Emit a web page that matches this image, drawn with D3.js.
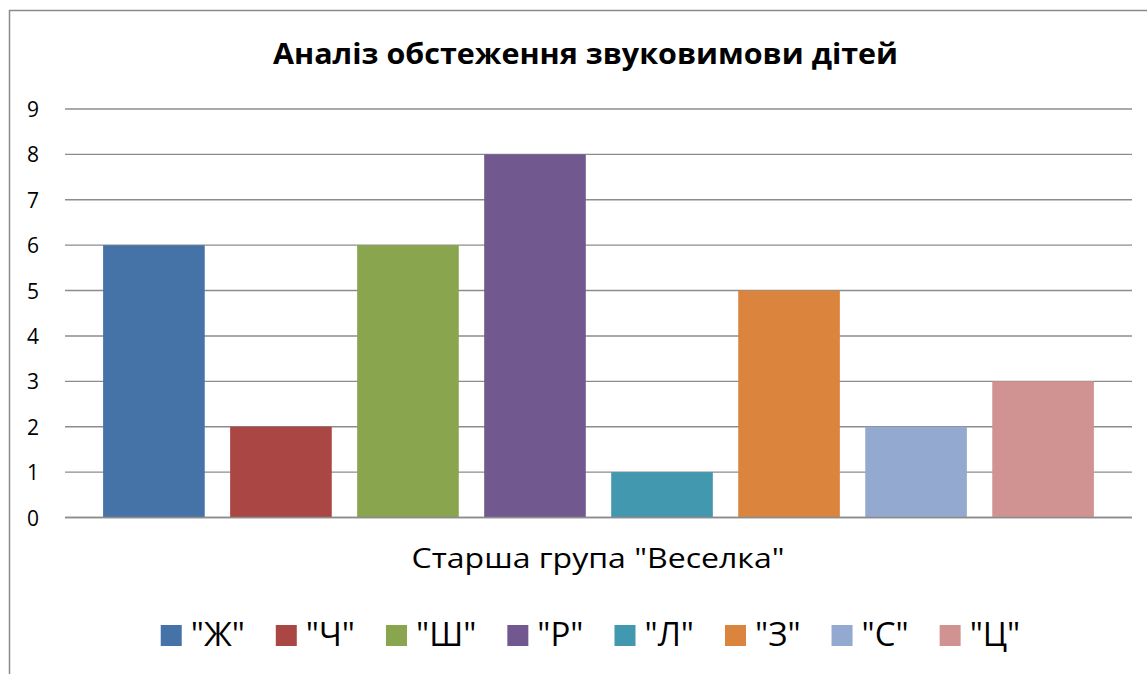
<!DOCTYPE html>
<html>
<head>
<meta charset="utf-8">
<script src="https://cdn.jsdelivr.net/npm/d3@7"></script>
<style>
  body { margin: 0; background: #fff; }
  text { font-family: "Open Sans", "Noto Sans", sans-serif; fill: #000; }
</style>
</head>
<body>
<script>
// chart data
var sounds = ['"Ж"', '"Ч"', '"Ш"', '"Р"', '"Л"', '"З"', '"С"', '"Ц"'];
var counts = [6, 2, 6, 8, 1, 5, 2, 3];
var colors = ["#4572A7", "#AA4643", "#89A54E", "#71588F", "#4198AF", "#DB843D", "#93A9CF", "#D19392"];
var yTicks = [0, 1, 2, 3, 4, 5, 6, 7, 8, 9];
var chartTitle = "Аналіз обстеження звуковимови дітей";
var groupName = 'Старша група "Веселка"';

var width = 1147, height = 674;

var svg = d3.select("body").append("svg")
  .attr("width", width)
  .attr("height", height);

// chart area border (right/bottom run off the picture)
svg.append("path")
  .attr("d", "M9.5,674 L9.5,10.5 L1147,10.5")
  .attr("fill", "none")
  .attr("stroke", "#8a8a8a")
  .attr("stroke-width", 1.5);

var x = d3.scaleBand()
  .domain(sounds)
  .range([65, 1132])
  .paddingInner(0.2)
  .paddingOuter(0.3);

var y = d3.scaleLinear()
  .domain([0, 9])
  .range([517.5, 109]);

// gridlines
svg.append("g").selectAll("line")
  .data(yTicks)
  .enter().append("line")
  .attr("x1", 65).attr("x2", 1132)
  .attr("y1", function(d){ return y(d); })
  .attr("y2", function(d){ return y(d); })
  .attr("stroke", "#8c8c8c")
  .attr("stroke-width", 1.4);

// y labels
svg.append("g").selectAll("text")
  .data(yTicks)
  .enter().append("text")
  .attr("x", 39)
  .attr("y", function(d){ return y(d) + 8; })
  .attr("text-anchor", "end")
  .style("font-size", "21px")
  .text(function(d){ return d; });

// bars
svg.append("g").selectAll("rect")
  .data(counts)
  .enter().append("rect")
  .attr("x", function(d, i){ return x(sounds[i]); })
  .attr("width", x.bandwidth())
  .attr("y", function(d){ return y(d); })
  .attr("height", function(d){ return y(0) - y(d); })
  .attr("fill", function(d, i){ return colors[i]; });

// redraw baseline over bars
svg.append("line")
  .attr("x1", 65).attr("x2", 1132)
  .attr("y1", y(0)).attr("y2", y(0))
  .attr("stroke", "#8c8c8c")
  .attr("stroke-width", 1.4);

// title
svg.append("text")
  .attr("x", 585.5)
  .attr("y", 64)
  .attr("text-anchor", "middle")
  .style("font-size", "29px")
  .style("font-weight", "bold")
  .attr("textLength", 625)
  .attr("lengthAdjust", "spacingAndGlyphs")
  .text(chartTitle);

// category axis title
svg.append("text")
  .attr("x", 598)
  .attr("y", 568)
  .attr("text-anchor", "middle")
  .style("font-size", "27px")
  .attr("textLength", 373)
  .attr("lengthAdjust", "spacingAndGlyphs")
  .text(groupName);

// legend
var legend = svg.append("g");
var items = legend.selectAll("g")
  .data(sounds)
  .enter().append("g");

items.append("rect")
  .attr("width", 21).attr("height", 21)
  .attr("y", 625)
  .attr("fill", function(d, i){ return colors[i]; });

items.append("text")
  .attr("x", 30)
  .attr("y", 646)
  .style("font-size", "33px")
  .text(function(d){ return d; });

var gap = 31;
var pos = 0, starts = [];
items.each(function(d){
  var w = d3.select(this).select("text").node().getComputedTextLength();
  starts.push(pos);
  pos += 30 + w + gap;
});
var total = pos - gap;
var left = 590.5 - total / 2;
items.attr("transform", function(d, i){ return "translate(" + (left + starts[i]) + ",0)"; });
</script>
</body>
</html>
